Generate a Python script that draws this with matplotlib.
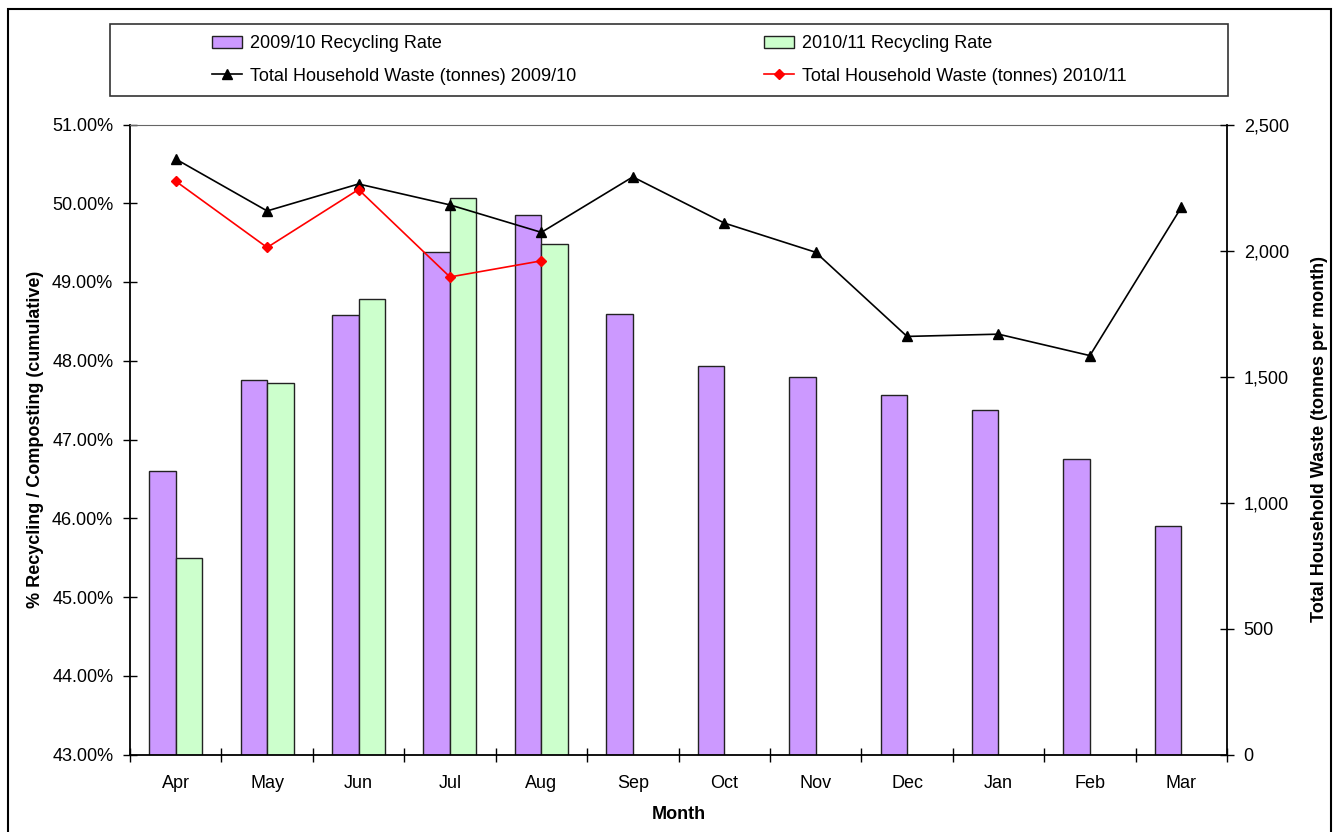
import numpy as np
import matplotlib
matplotlib.use('Agg')
import matplotlib.pyplot as plt
from matplotlib.patches import Rectangle
from matplotlib.ticker import FuncFormatter

plt.rcParams['font.family'] = ['Liberation Sans', 'DejaVu Sans']

months = ['Apr', 'May', 'Jun', 'Jul', 'Aug', 'Sep', 'Oct', 'Nov', 'Dec', 'Jan', 'Feb', 'Mar']
rate_0910 = [46.60, 47.75, 48.58, 49.38, 49.85, 48.60, 47.93, 47.80, 47.56, 47.38, 46.75, 45.90]
rate_1011 = [45.49, 47.72, 48.78, 50.07, 49.48]
waste_0910 = [2363, 2157, 2264, 2181, 2072, 2292, 2109, 1993, 1659, 1668, 1583, 2171]
waste_1011 = [2275, 2012, 2242, 1895, 1959]

W, H = 1338, 832
fig = plt.figure(figsize=(W / 100, H / 100), dpi=100)

# plot area in pixels
left, right, top, bottom = 130, 1227, 124.5, 754.5
ax = fig.add_axes([left / W, 1 - bottom / H, (right - left) / W, (bottom - top) / H])

x = np.arange(len(months))
w = 0.29
fs = 13

ax.bar(x - w / 2, rate_0910, w, color='#CC99FF', edgecolor='#222222', linewidth=1.0,
       label='2009/10 Recycling Rate')
x2 = x[:len(rate_1011)]
ax.bar(x2 + w / 2, rate_1011, w, color='#CCFFCC', edgecolor='#222222', linewidth=1.0,
       label='2010/11 Recycling Rate')

ax.set_xlim(-0.5, len(months) - 0.5)
ax.set_ylim(43, 51)
ax.set_yticks(np.arange(43, 51.01, 1))
ax.yaxis.set_major_formatter(FuncFormatter(lambda v, p: '%.2f%%' % v))
ax.tick_params(axis='y', direction='inout', length=10, width=1, labelsize=fs, pad=7)

# month labels at centres, tick marks between months
ax.set_xticks(x)
ax.set_xticklabels(months)
ax.set_xticks(np.arange(-0.5, len(months), 1), minor=True)
ax.tick_params(axis='x', which='major', length=0, labelsize=fs, pad=15)
ax.tick_params(axis='x', which='minor', direction='inout', length=10, width=1)

ax.set_xlabel('Month', fontsize=fs, fontweight='bold', labelpad=10)
ax.set_ylabel('% Recycling / Composting (cumulative)', fontsize=fs, fontweight='bold', labelpad=6)

for s in ['left', 'bottom']:
    ax.spines[s].set_color('black')
    ax.spines[s].set_linewidth(1.3)
ax.spines['top'].set_color('#666666')
ax.spines['right'].set_visible(False)

ax2 = ax.twinx()
ax2.plot(x, waste_0910, color='black', marker='^', markersize=7, linewidth=1.2,
         label='Total Household Waste (tonnes) 2009/10')
ax2.plot(x2, waste_1011, color='#FF0000', marker='D', markersize=5.5, linewidth=1.2,
         label='Total Household Waste (tonnes) 2010/11')
ax2.set_ylim(0, 2500)
ax2.set_yticks(np.arange(0, 2501, 500))
ax2.yaxis.set_major_formatter(FuncFormatter(lambda v, p: '{:,.0f}'.format(v)))
ax2.tick_params(axis='y', direction='inout', length=10, width=1, labelsize=fs, pad=7)
ax2.set_ylabel('Total Household Waste (tonnes per month)', fontsize=fs, fontweight='bold', labelpad=16)
for s in ['left', 'bottom', 'top']:
    ax2.spines[s].set_visible(False)
ax2.spines['right'].set_linewidth(1.3)

# legend box
fig.patches.append(Rectangle((110 / W, 1 - 96 / H), (1228 - 110) / W, (96 - 24) / H,
                             transform=fig.transFigure, fill=False, edgecolor='#333333', linewidth=1.2))
h1, l1 = ax.get_legend_handles_labels()
h2, l2 = ax2.get_legend_handles_labels()
handles = [h1[0], h2[0], h1[1], h2[1]]
labels = [l1[0], l2[0], l1[1], l2[1]]
fig.legend(handles, labels, ncol=2, loc='center', bbox_to_anchor=(669 / W, 1 - 60 / H),
           frameon=False, fontsize=fs, columnspacing=10.4, handlelength=1.7,
           handletextpad=0.4, labelspacing=0.85)

# outer frame
fig.patches.append(Rectangle((8 / W, -0.1), (1331 - 8) / W, 1.1 - 9 / H,
                             transform=fig.transFigure, fill=False, edgecolor='black', linewidth=1.5))

fig.savefig('out.png', dpi=100)
